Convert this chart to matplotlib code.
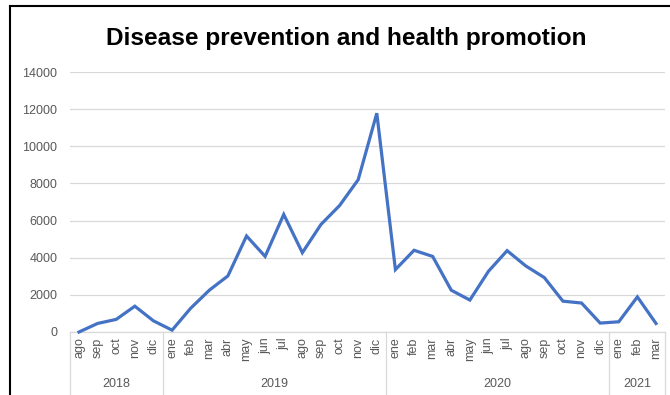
import matplotlib
matplotlib.use("Agg")
import matplotlib.pyplot as plt
from matplotlib.lines import Line2D
import matplotlib.transforms as mtrans

months = ["ago", "sep", "oct", "nov", "dic",
          "ene", "feb", "mar", "abr", "may", "jun", "jul", "ago", "sep", "oct", "nov", "dic",
          "ene", "feb", "mar", "abr", "may", "jun", "jul", "ago", "sep", "oct", "nov", "dic",
          "ene", "feb", "mar"]
years = ["2018", "2019", "2020", "2021"]
year_counts = [5, 12, 12, 3]
values = [0, 460, 680, 1390, 600,
          100, 1280, 2250, 3020, 5170, 4070, 6330, 4270, 5790, 6810, 8200, 11780,
          3360, 4400, 4070, 2250, 1720, 3270, 4380, 3560, 2930, 1660, 1560, 480,
          550, 1890, 460]
yticks = [0, 2000, 4000, 6000, 8000, 10000, 12000, 14000]
title = "Disease prevention and health promotion"

W, H = 670, 395
fig = plt.figure(figsize=(W / 100, H / 100), dpi=100)
fig.patch.set_facecolor("white")

left, right, top, bottom = 69.7, 665.3, 72, 332
ax = fig.add_axes([left / W, 1 - bottom / H, (right - left) / W, (bottom - top) / H])

gray = "#595959"
grid = "#D9D9D9"
font = "Liberation Sans"

x = list(range(len(values)))
ax.plot(x, values, color="#4472C4", lw=2.3, solid_joinstyle="miter", zorder=3, clip_on=False)

ax.set_xlim(-0.5, len(values) - 0.5)
ax.set_ylim(0, 14000)
ax.set_yticks(yticks)
ax.set_yticklabels([str(v) for v in yticks], fontsize=9, color=gray, family=font)
ax.tick_params(axis="y", length=0, pad=9)
ax.yaxis.grid(True, color=grid, lw=0.9)
ax.set_axisbelow(True)

ax.set_xticks(x)
ax.set_xticklabels(months, rotation=90, fontsize=9, color=gray, family=font, va="top")
ax.tick_params(axis="x", length=0, pad=4)

for s in ["top", "right", "left"]:
    ax.spines[s].set_visible(False)
ax.spines["bottom"].set_color(grid)
ax.spines["bottom"].set_linewidth(0.9)

# multi-level category separators and year labels
trans = mtrans.blended_transform_factory(ax.transData, ax.transAxes)
depth = (H - bottom) / (bottom - top)
start = -0.5
bounds = [start]
for c in year_counts:
    bounds.append(bounds[-1] + c)
for b in bounds:
    ax.plot([b, b], [0, -depth], color=grid, lw=0.9, transform=trans, clip_on=False)
for i, yr in enumerate(years):
    cx = (bounds[i] + bounds[i + 1]) / 2
    ax.text(cx, -52 / (bottom - top), yr, transform=trans, ha="center", va="center",
            fontsize=9, color=gray, family=font)

fig.text(346 / W, 1 - 38 / H, title, ha="center", va="center", fontsize=17.6,
         fontweight="bold", family=font, color="black")

# screenshot frame lines
fig.add_artist(Line2D([10 / W, 10 / W], [0, 1 - 6 / H], color="black", lw=1.5,
                      transform=fig.transFigure))
fig.add_artist(Line2D([10 / W, 1], [1 - 6 / H, 1 - 6 / H], color="black", lw=1.5,
                      transform=fig.transFigure))

fig.savefig("out.png", dpi=100)
